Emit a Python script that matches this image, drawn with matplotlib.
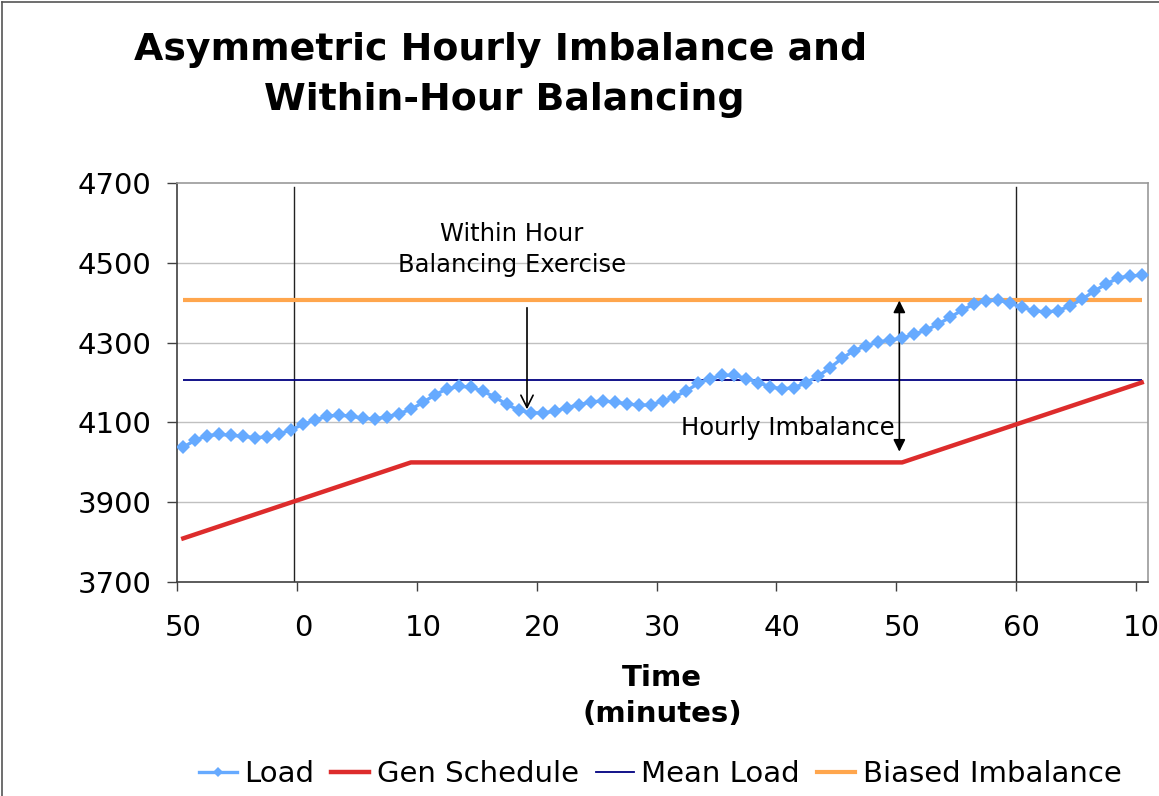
import matplotlib
matplotlib.use("Agg")
import matplotlib.pyplot as plt
from matplotlib.lines import Line2D

# ---- data ----
minutes = list(range(81))  # category index, one point per minute
tick_positions = [0, 10, 20, 30, 40, 50, 60, 70, 80]
tick_labels = ['50', '0', '10', '20', '30', '40', '50', '60', '10']

load = [4038, 4056, 4067, 4070, 4068, 4065, 4062, 4064, 4071, 4082,
        4095, 4106, 4116, 4118, 4116, 4110, 4109, 4114, 4122, 4133,
        4150, 4169, 4184, 4190, 4189, 4178, 4164, 4145, 4131, 4124,
        4124, 4128, 4137, 4144, 4151, 4154, 4151, 4147, 4143, 4144,
        4153, 4164, 4179, 4198, 4210, 4218, 4218, 4210, 4200, 4189,
        4184, 4187, 4200, 4216, 4237, 4261, 4280, 4292, 4301, 4306,
        4311, 4321, 4331, 4346, 4363, 4381, 4396, 4405, 4406, 4399,
        4388, 4380, 4376, 4380, 4391, 4408, 4428, 4446, 4461, 4467,
        4468]

gen_schedule = [3810, 3820, 3830, 3840, 3850, 3860, 3870, 3880, 3890, 3900,
                3910, 3920, 3930, 3940, 3950, 3960, 3970, 3980, 3990, 4000,
                4000, 4000, 4000, 4000, 4000, 4000, 4000, 4000, 4000, 4000,
                4000, 4000, 4000, 4000, 4000, 4000, 4000, 4000, 4000, 4000,
                4000, 4000, 4000, 4000, 4000, 4000, 4000, 4000, 4000, 4000,
                4000, 4000, 4000, 4000, 4000, 4000, 4000, 4000, 4000, 4000,
                4000, 4010, 4020, 4030, 4040, 4050, 4060, 4070, 4080, 4090,
                4100, 4110, 4120, 4130, 4140, 4150, 4160, 4170, 4180, 4190,
                4200]

mean_load = 4207
biased_imbalance = 4407

# ---- figure ----
W, H = 1159, 796
fig = plt.figure(figsize=(W / 100, H / 100), dpi=100)
ax = fig.add_axes([177.3 / W, 1 - 582.3 / H, (1147.7 - 177.3) / W, (582.3 - 182.7) / H])

ax.set_xlim(-0.5, 80.5)
ax.set_ylim(3700, 4700)

# gridlines
for v in [3900, 4100, 4300, 4500]:
    ax.axhline(v, color='#c0c0c0', lw=1.0, zorder=0)

# vertical marker lines (hour boundaries)
for xv in [9.25, 69.53]:
    ax.plot([xv, xv], [3700, 4689], color='#222222', lw=1.0, zorder=1)

ax.hlines(biased_imbalance, minutes[0], minutes[-1], color='#ffa64d', lw=3.0, zorder=2,
          label='Biased Imbalance')
ax.hlines(mean_load, minutes[0], minutes[-1], color='#000080', lw=1.3, zorder=2,
          label='Mean Load')
ax.plot(minutes, gen_schedule, color='#dd2c2c', lw=3.2, zorder=3, label='Gen Schedule')
ax.plot(minutes, load, color='#66aaff', lw=2.4, marker='D', markersize=7,
        markeredgewidth=0, zorder=4, label='Load')

# annotations
ax.text(27.44, 4572, 'Within Hour', ha='center', va='center', fontsize=17.5)
ax.text(27.44, 4494, 'Balancing Exercise', ha='center', va='center', fontsize=17.5)
ax.annotate('', xy=(28.69, 4126), xytext=(28.69, 4394),
            arrowprops=dict(arrowstyle='->', color='black', lw=1.2, mutation_scale=22))
ax.text(41.53, 4086, 'Hourly Imbalance', ha='left', va='center', fontsize=17.5)
ax.annotate('', xy=(59.77, 4027), xytext=(59.77, 4405),
            arrowprops=dict(arrowstyle='<|-|>', color='black', lw=1.2, mutation_scale=18,
                            shrinkA=0, shrinkB=0))

# ticks
ax.set_yticks([3700, 3900, 4100, 4300, 4500, 4700])
ax.tick_params(axis='y', direction='out', length=7, width=1, color='#404040',
               labelsize=21, pad=11.5)
ax.set_xticks(tick_positions)
ax.set_xticklabels(tick_labels)
ax.set_xticks([-0.5 + 10 * k for k in range(9)], minor=True)
ax.tick_params(axis='x', which='major', length=0, labelsize=21, pad=23)
ax.tick_params(axis='x', which='minor', direction='out', length=6.5, width=1, color='#404040')

for s in ['left', 'bottom']:
    ax.spines[s].set_color('#404040')
    ax.spines[s].set_linewidth(1.2)
for s in ['top', 'right']:
    ax.spines[s].set_color('#999999')
    ax.spines[s].set_linewidth(1.2)

# titles
fig.text(500.5 / W, 1 - 50 / H, 'Asymmetric Hourly Imbalance and', ha='center', va='center',
         fontsize=27.3, fontweight='bold')
fig.text(504 / W, 1 - 100 / H, 'Within-Hour Balancing', ha='center', va='center',
         fontsize=27.3, fontweight='bold')
fig.text(662 / W, 1 - 678 / H, 'Time', ha='center', va='center', fontsize=21, fontweight='bold')
fig.text(662 / W, 1 - 714 / H, '(minutes)', ha='center', va='center', fontsize=21,
         fontweight='bold')

# legend
order = ['Load', 'Gen Schedule', 'Mean Load', 'Biased Imbalance']
leg_handles = [
    Line2D([], [], color='#66aaff', lw=2.4, marker='D', markersize=5, markeredgewidth=0),
    Line2D([], [], color='#dd2c2c', lw=3.2),
    Line2D([], [], color='#000080', lw=1.3),
    Line2D([], [], color='#ffa64d', lw=3.0),
]
fig.legend(leg_handles, order, loc='center', bbox_to_anchor=(660 / W, 1 - 774 / H), ncol=4,
           frameon=False, fontsize=21, handlelength=1.3, handletextpad=0.25,
           columnspacing=0.6, borderaxespad=0)

# outer chart frame (top and left edges visible)
fig.add_artist(Line2D([2 / W, 1], [1 - 2 / H, 1 - 2 / H], transform=fig.transFigure,
                      color='#555555', lw=1.2))
fig.add_artist(Line2D([2 / W, 2 / W], [0, 1 - 2 / H], transform=fig.transFigure,
                      color='#555555', lw=1.2))

fig.savefig('out.png', dpi=100)
